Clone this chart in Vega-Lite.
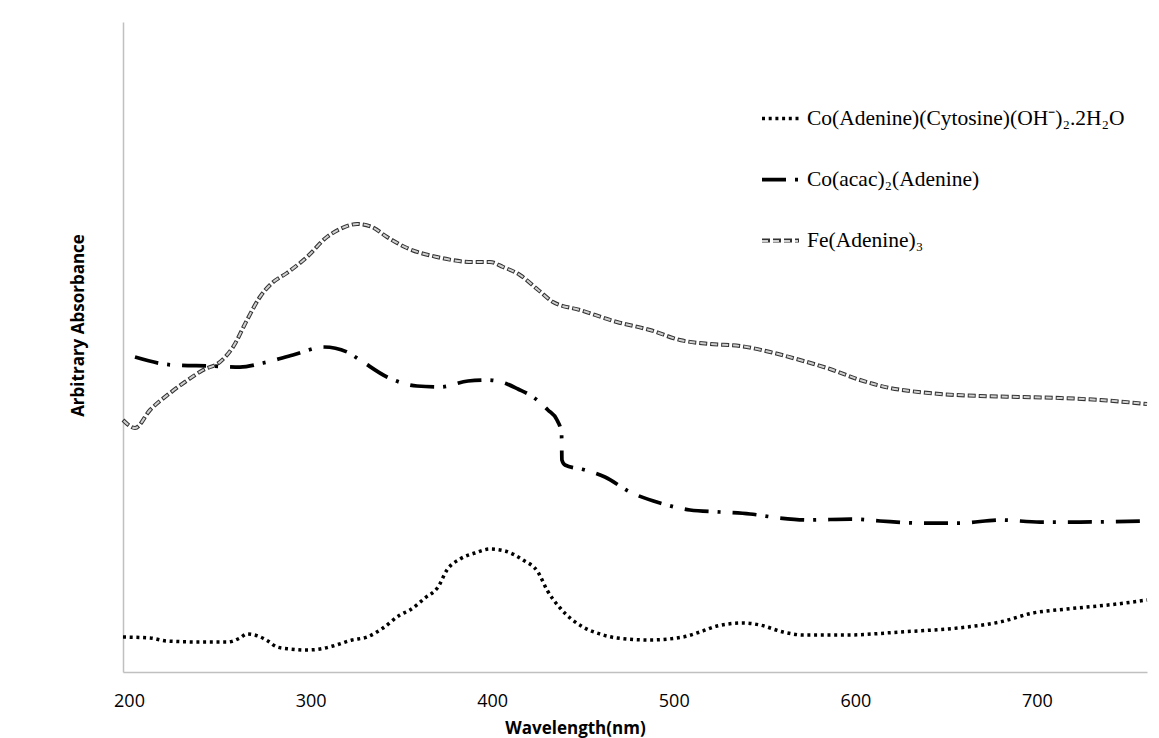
{
  "$schema": "https://vega.github.io/schema/vega-lite/v6.json",
  "width": 1024,
  "height": 650,
  "autosize": {"type": "none"},
  "padding": {"left": 123, "top": 22, "right": 12, "bottom": 66},
  "background": "white",
  "config": {
    "view": {"stroke": null},
    "axis": {"grid": false},
    "legend": {
      "symbolType": "stroke",
      "symbolSize": 1369,
      "labelFont": "Liberation Serif",
      "labelFontSize": 21.5,
      "labelColor": "#000000",
      "labelOffset": 6,
      "rowPadding": 30,
      "padding": 0,
      "labelLimit": 0
    }
  },
  "data": {
    "values": [
      {"series": "Fe(Adenine)₃", "x": 196.7, "y": 252},
      {"series": "Fe(Adenine)₃", "x": 203.3, "y": 244},
      {"series": "Fe(Adenine)₃", "x": 211.6, "y": 262},
      {"series": "Fe(Adenine)₃", "x": 222.6, "y": 279},
      {"series": "Fe(Adenine)₃", "x": 230.8, "y": 290},
      {"series": "Fe(Adenine)₃", "x": 240.8, "y": 302},
      {"series": "Fe(Adenine)₃", "x": 250.1, "y": 310},
      {"series": "Fe(Adenine)₃", "x": 257.3, "y": 325},
      {"series": "Fe(Adenine)₃", "x": 265.0, "y": 352},
      {"series": "Fe(Adenine)₃", "x": 272.1, "y": 375},
      {"series": "Fe(Adenine)₃", "x": 278.8, "y": 389},
      {"series": "Fe(Adenine)₃", "x": 287.0, "y": 399},
      {"series": "Fe(Adenine)₃", "x": 298.0, "y": 415},
      {"series": "Fe(Adenine)₃", "x": 309.0, "y": 435},
      {"series": "Fe(Adenine)₃", "x": 316.2, "y": 443},
      {"series": "Fe(Adenine)₃", "x": 325.6, "y": 448},
      {"series": "Fe(Adenine)₃", "x": 333.8, "y": 445},
      {"series": "Fe(Adenine)₃", "x": 342.1, "y": 435},
      {"series": "Fe(Adenine)₃", "x": 353.1, "y": 424},
      {"series": "Fe(Adenine)₃", "x": 369.6, "y": 415},
      {"series": "Fe(Adenine)₃", "x": 389.4, "y": 410},
      {"series": "Fe(Adenine)₃", "x": 398.8, "y": 410},
      {"series": "Fe(Adenine)₃", "x": 406.0, "y": 405},
      {"series": "Fe(Adenine)₃", "x": 415.3, "y": 397},
      {"series": "Fe(Adenine)₃", "x": 424.7, "y": 383},
      {"series": "Fe(Adenine)₃", "x": 433.5, "y": 370},
      {"series": "Fe(Adenine)₃", "x": 448.4, "y": 362},
      {"series": "Fe(Adenine)₃", "x": 468.7, "y": 350},
      {"series": "Fe(Adenine)₃", "x": 486.9, "y": 342},
      {"series": "Fe(Adenine)₃", "x": 503.4, "y": 332},
      {"series": "Fe(Adenine)₃", "x": 520.0, "y": 328},
      {"series": "Fe(Adenine)₃", "x": 536.5, "y": 326},
      {"series": "Fe(Adenine)₃", "x": 553.0, "y": 320},
      {"series": "Fe(Adenine)₃", "x": 569.5, "y": 312},
      {"series": "Fe(Adenine)₃", "x": 586.0, "y": 303},
      {"series": "Fe(Adenine)₃", "x": 602.6, "y": 292},
      {"series": "Fe(Adenine)₃", "x": 619.1, "y": 284},
      {"series": "Fe(Adenine)₃", "x": 630.1, "y": 281},
      {"series": "Fe(Adenine)₃", "x": 646.6, "y": 278},
      {"series": "Fe(Adenine)₃", "x": 668.6, "y": 276},
      {"series": "Fe(Adenine)₃", "x": 690.7, "y": 275},
      {"series": "Fe(Adenine)₃", "x": 712.7, "y": 274},
      {"series": "Fe(Adenine)₃", "x": 734.7, "y": 272},
      {"series": "Fe(Adenine)₃", "x": 760.6, "y": 268},

      {"series": "Co(acac)₂(Adenine)", "x": 203.3, "y": 315},
      {"series": "Co(acac)₂(Adenine)", "x": 224.2, "y": 307},
      {"series": "Co(acac)₂(Adenine)", "x": 244.6, "y": 306},
      {"series": "Co(acac)₂(Adenine)", "x": 261.1, "y": 305},
      {"series": "Co(acac)₂(Adenine)", "x": 273.8, "y": 309},
      {"series": "Co(acac)₂(Adenine)", "x": 290.3, "y": 317},
      {"series": "Co(acac)₂(Adenine)", "x": 307.4, "y": 325},
      {"series": "Co(acac)₂(Adenine)", "x": 320.1, "y": 320},
      {"series": "Co(acac)₂(Adenine)", "x": 327.2, "y": 312},
      {"series": "Co(acac)₂(Adenine)", "x": 342.1, "y": 295},
      {"series": "Co(acac)₂(Adenine)", "x": 358.6, "y": 286},
      {"series": "Co(acac)₂(Adenine)", "x": 371.3, "y": 285},
      {"series": "Co(acac)₂(Adenine)", "x": 386.7, "y": 291},
      {"series": "Co(acac)₂(Adenine)", "x": 397.1, "y": 292},
      {"series": "Co(acac)₂(Adenine)", "x": 408.2, "y": 288},
      {"series": "Co(acac)₂(Adenine)", "x": 414.2, "y": 283},
      {"series": "Co(acac)₂(Adenine)", "x": 422.5, "y": 275},
      {"series": "Co(acac)₂(Adenine)", "x": 430.7, "y": 262},
      {"series": "Co(acac)₂(Adenine)", "x": 435.7, "y": 252},
      {"series": "Co(acac)₂(Adenine)", "x": 438.2, "y": 239},
      {"series": "Co(acac)₂(Adenine)", "x": 438.4, "y": 212},
      {"series": "Co(acac)₂(Adenine)", "x": 440.1, "y": 207},
      {"series": "Co(acac)₂(Adenine)", "x": 451.1, "y": 202},
      {"series": "Co(acac)₂(Adenine)", "x": 462.1, "y": 195},
      {"series": "Co(acac)₂(Adenine)", "x": 475.9, "y": 180},
      {"series": "Co(acac)₂(Adenine)", "x": 492.4, "y": 169},
      {"series": "Co(acac)₂(Adenine)", "x": 508.9, "y": 162},
      {"series": "Co(acac)₂(Adenine)", "x": 525.5, "y": 160},
      {"series": "Co(acac)₂(Adenine)", "x": 542.0, "y": 158},
      {"series": "Co(acac)₂(Adenine)", "x": 558.5, "y": 154},
      {"series": "Co(acac)₂(Adenine)", "x": 575.0, "y": 152},
      {"series": "Co(acac)₂(Adenine)", "x": 597.1, "y": 153},
      {"series": "Co(acac)₂(Adenine)", "x": 613.6, "y": 151},
      {"series": "Co(acac)₂(Adenine)", "x": 635.6, "y": 149},
      {"series": "Co(acac)₂(Adenine)", "x": 657.6, "y": 149},
      {"series": "Co(acac)₂(Adenine)", "x": 679.7, "y": 152},
      {"series": "Co(acac)₂(Adenine)", "x": 701.7, "y": 150},
      {"series": "Co(acac)₂(Adenine)", "x": 723.7, "y": 150},
      {"series": "Co(acac)₂(Adenine)", "x": 760.6, "y": 151},

      {"series": "Co(Adenine)(Cytosine)(OH⁻)₂.2H₂O", "x": 196.7, "y": 35},
      {"series": "Co(Adenine)(Cytosine)(OH⁻)₂.2H₂O", "x": 211.6, "y": 34},
      {"series": "Co(Adenine)(Cytosine)(OH⁻)₂.2H₂O", "x": 220.9, "y": 31},
      {"series": "Co(Adenine)(Cytosine)(OH⁻)₂.2H₂O", "x": 239.1, "y": 30},
      {"series": "Co(Adenine)(Cytosine)(OH⁻)₂.2H₂O", "x": 254.5, "y": 30},
      {"series": "Co(Adenine)(Cytosine)(OH⁻)₂.2H₂O", "x": 261.1, "y": 34},
      {"series": "Co(Adenine)(Cytosine)(OH⁻)₂.2H₂O", "x": 265.0, "y": 38},
      {"series": "Co(Adenine)(Cytosine)(OH⁻)₂.2H₂O", "x": 271.0, "y": 36},
      {"series": "Co(Adenine)(Cytosine)(OH⁻)₂.2H₂O", "x": 276.5, "y": 31},
      {"series": "Co(Adenine)(Cytosine)(OH⁻)₂.2H₂O", "x": 281.5, "y": 25},
      {"series": "Co(Adenine)(Cytosine)(OH⁻)₂.2H₂O", "x": 288.7, "y": 23},
      {"series": "Co(Adenine)(Cytosine)(OH⁻)₂.2H₂O", "x": 298.0, "y": 22},
      {"series": "Co(Adenine)(Cytosine)(OH⁻)₂.2H₂O", "x": 305.2, "y": 23},
      {"series": "Co(Adenine)(Cytosine)(OH⁻)₂.2H₂O", "x": 312.3, "y": 26},
      {"series": "Co(Adenine)(Cytosine)(OH⁻)₂.2H₂O", "x": 322.8, "y": 32},
      {"series": "Co(Adenine)(Cytosine)(OH⁻)₂.2H₂O", "x": 331.1, "y": 35},
      {"series": "Co(Adenine)(Cytosine)(OH⁻)₂.2H₂O", "x": 339.9, "y": 44},
      {"series": "Co(Adenine)(Cytosine)(OH⁻)₂.2H₂O", "x": 349.2, "y": 57},
      {"series": "Co(Adenine)(Cytosine)(OH⁻)₂.2H₂O", "x": 354.7, "y": 62},
      {"series": "Co(Adenine)(Cytosine)(OH⁻)₂.2H₂O", "x": 363.0, "y": 74},
      {"series": "Co(Adenine)(Cytosine)(OH⁻)₂.2H₂O", "x": 370.2, "y": 85},
      {"series": "Co(Adenine)(Cytosine)(OH⁻)₂.2H₂O", "x": 375.1, "y": 102},
      {"series": "Co(Adenine)(Cytosine)(OH⁻)₂.2H₂O", "x": 382.3, "y": 113},
      {"series": "Co(Adenine)(Cytosine)(OH⁻)₂.2H₂O", "x": 390.5, "y": 119},
      {"series": "Co(Adenine)(Cytosine)(OH⁻)₂.2H₂O", "x": 398.8, "y": 123},
      {"series": "Co(Adenine)(Cytosine)(OH⁻)₂.2H₂O", "x": 407.1, "y": 121},
      {"series": "Co(Adenine)(Cytosine)(OH⁻)₂.2H₂O", "x": 417.0, "y": 112},
      {"series": "Co(Adenine)(Cytosine)(OH⁻)₂.2H₂O", "x": 425.2, "y": 100},
      {"series": "Co(Adenine)(Cytosine)(OH⁻)₂.2H₂O", "x": 430.2, "y": 82},
      {"series": "Co(Adenine)(Cytosine)(OH⁻)₂.2H₂O", "x": 437.4, "y": 64},
      {"series": "Co(Adenine)(Cytosine)(OH⁻)₂.2H₂O", "x": 450.0, "y": 45},
      {"series": "Co(Adenine)(Cytosine)(OH⁻)₂.2H₂O", "x": 459.4, "y": 38},
      {"series": "Co(Adenine)(Cytosine)(OH⁻)₂.2H₂O", "x": 468.7, "y": 34},
      {"series": "Co(Adenine)(Cytosine)(OH⁻)₂.2H₂O", "x": 486.9, "y": 32},
      {"series": "Co(Adenine)(Cytosine)(OH⁻)₂.2H₂O", "x": 505.1, "y": 35},
      {"series": "Co(Adenine)(Cytosine)(OH⁻)₂.2H₂O", "x": 514.4, "y": 40},
      {"series": "Co(Adenine)(Cytosine)(OH⁻)₂.2H₂O", "x": 523.8, "y": 46},
      {"series": "Co(Adenine)(Cytosine)(OH⁻)₂.2H₂O", "x": 538.1, "y": 49},
      {"series": "Co(Adenine)(Cytosine)(OH⁻)₂.2H₂O", "x": 547.5, "y": 47},
      {"series": "Co(Adenine)(Cytosine)(OH⁻)₂.2H₂O", "x": 560.2, "y": 40},
      {"series": "Co(Adenine)(Cytosine)(OH⁻)₂.2H₂O", "x": 571.2, "y": 37},
      {"series": "Co(Adenine)(Cytosine)(OH⁻)₂.2H₂O", "x": 578.9, "y": 37},
      {"series": "Co(Adenine)(Cytosine)(OH⁻)₂.2H₂O", "x": 595.4, "y": 37},
      {"series": "Co(Adenine)(Cytosine)(OH⁻)₂.2H₂O", "x": 624.6, "y": 40},
      {"series": "Co(Adenine)(Cytosine)(OH⁻)₂.2H₂O", "x": 661.5, "y": 45},
      {"series": "Co(Adenine)(Cytosine)(OH⁻)₂.2H₂O", "x": 679.7, "y": 50},
      {"series": "Co(Adenine)(Cytosine)(OH⁻)₂.2H₂O", "x": 697.8, "y": 59},
      {"series": "Co(Adenine)(Cytosine)(OH⁻)₂.2H₂O", "x": 716.5, "y": 63},
      {"series": "Co(Adenine)(Cytosine)(OH⁻)₂.2H₂O", "x": 744.1, "y": 68},
      {"series": "Co(Adenine)(Cytosine)(OH⁻)₂.2H₂O", "x": 760.6, "y": 72}
    ]
  },
  "layer": [
    {
      "mark": {"type": "line", "interpolate": "monotone"},
      "encoding": {
        "x": {
          "field": "x",
          "type": "quantitative",
          "scale": {"domain": [196.7, 760.6], "nice": false, "zero": false},
          "axis": {
            "title": "Wavelength(nm)",
            "values": [200, 300, 400, 500, 600, 700],
            "domainColor": "#c0c0c0",
            "domainWidth": 1.5,
            "ticks": false,
            "tickSize": 0,
            "labelPadding": 20,
            "labelFont": "Open Sans",
            "labelFontSize": 18,
            "labelColor": "#000000",
            "labelFlush": false,
            "titleFont": "Open Sans",
            "titleFontSize": 17,
            "titleFontWeight": "bold",
            "titleColor": "#000000",
            "titleX": 452,
            "titleY": 61,
            "titleBaseline": "alphabetic"
          }
        },
        "y": {
          "field": "y",
          "type": "quantitative",
          "scale": {"domain": [0, 650], "nice": false},
          "axis": {
            "title": "Arbitrary Absorbance",
            "labels": false,
            "ticks": false,
            "tickSize": 0,
            "domainColor": "#c0c0c0",
            "domainWidth": 1.5,
            "titleFont": "Open Sans",
            "titleFontSize": 17,
            "titleFontWeight": "bold",
            "titleColor": "#000000",
            "titleX": -40,
            "titleY": 303,
            "titleBaseline": "alphabetic"
          }
        },
        "strokeDash": {
          "field": "series",
          "type": "nominal",
          "scale": {
            "domain": ["Co(Adenine)(Cytosine)(OH⁻)₂.2H₂O", "Co(acac)₂(Adenine)", "Fe(Adenine)₃"],
            "range": [[3, 3.7], [24, 9, 3, 12], [8, 3]]
          },
          "legend": {"title": null, "orient": "none", "legendX": 637, "legendY": 76}
        },
        "strokeWidth": {
          "field": "series",
          "type": "nominal",
          "scale": {
            "domain": ["Co(Adenine)(Cytosine)(OH⁻)₂.2H₂O", "Co(acac)₂(Adenine)", "Fe(Adenine)₃"],
            "range": [3.5, 4, 5]
          },
          "legend": {"title": null, "orient": "none", "legendX": 637, "legendY": 76}
        },
        "stroke": {
          "field": "series",
          "type": "nominal",
          "scale": {
            "domain": ["Co(Adenine)(Cytosine)(OH⁻)₂.2H₂O", "Co(acac)₂(Adenine)", "Fe(Adenine)₃"],
            "range": ["#000000", "#000000", "#333333"]
          },
          "legend": {"title": null, "orient": "none", "legendX": 637, "legendY": 76}
        }
      }
    },
    {
      "transform": [{"filter": "datum.series == 'Fe(Adenine)₃'"}],
      "mark": {
        "type": "line",
        "interpolate": "monotone",
        "stroke": "#d0d0d0",
        "strokeWidth": 2,
        "strokeDash": [6, 5],
        "strokeDashOffset": -1
      },
      "encoding": {
        "x": {"field": "x", "type": "quantitative"},
        "y": {"field": "y", "type": "quantitative"},
        "opacity": {
          "field": "series",
          "type": "nominal",
          "scale": {"range": [1]},
          "legend": {
            "title": null,
            "orient": "none",
            "legendX": 637,
            "legendY": 199.5,
            "labelExpr": "''",
            "symbolStrokeColor": "#d0d0d0",
            "symbolStrokeWidth": 2,
            "symbolDash": [6, 5],
            "symbolDashOffset": -1
          }
        }
      }
    }
  ]
}
